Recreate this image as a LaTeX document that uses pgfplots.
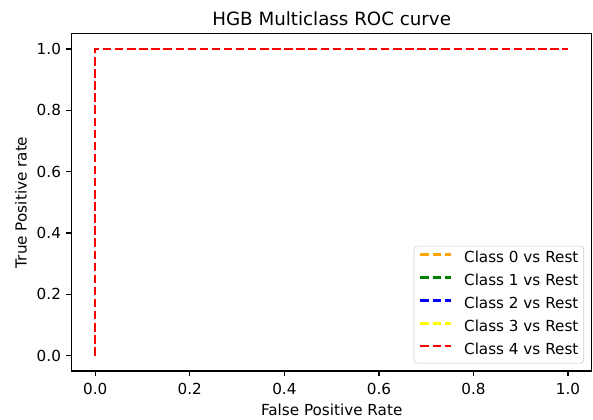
\documentclass[border=0pt]{standalone}
\usepackage{fontspec}
\setmainfont{DejaVu Sans}
\usepackage{pgfplots}
\usetikzlibrary{calc}
\pgfplotsset{compat=1.18}
\definecolor{mplorange}{HTML}{FFA500}
\definecolor{mplgreen}{HTML}{008000}
\definecolor{mplblue}{HTML}{0000FF}
\definecolor{mplyellow}{HTML}{FFFF00}
\definecolor{mplred}{HTML}{FF0000}
\tikzset{roc/.style={line width=1.5pt, dash pattern=on 5.55pt off 2.4pt}}
\begin{document}
\begin{tikzpicture}
\begin{axis}[
  scale only axis,
  width=342pt, height=221.8pt,
  xmin=-0.05, xmax=1.05, ymin=-0.05, ymax=1.05,
  xtick={0,0.2,0.4,0.6,0.8,1.0},
  ytick={0,0.2,0.4,0.6,0.8,1.0},
  /pgf/number format/assume math mode=true,
  /pgf/number format/.cd, fixed, fixed zerofill, precision=1, /pgfplots/.cd,
  tick align=outside, tick pos=left,
  major tick length=3.5pt,
  every tick/.style={black, line width=0.8pt},
  axis line style={line width=0.8pt},
  ticklabel style={font=\fontsize{10}{12}\selectfont},
  xticklabel style={yshift=-1pt},
  xlabel={False Positive Rate},
  ylabel={True Positive rate},
  label style={font=\fontsize{10}{12}\selectfont},
  xlabel style={at={(axis description cs:0.5,-0.1155)}, anchor=center},
  ylabel style={at={(axis description cs:-0.0974,0.5)}, anchor=center},
  every axis title shift=0pt,
  title={HGB Multiclass ROC curve},
  title style={at={(axis description cs:0.5,1.0257)}, anchor=base, font=\fontsize{12}{14}\selectfont},
  legend style={at={(axis description cs:0.9852,0.0228)}, anchor=south east,
    draw=black!20, rounded corners=2pt, fill=white, fill opacity=0.8, text opacity=1,
    font=\fontsize{10}{12}\selectfont, row sep=5.6pt, column sep=0pt,
    inner xsep=3.5pt, inner ysep=3.5pt,
    nodes={inner sep=0pt, text height=7.5pt, text depth=2pt}},
  legend cell align=left,
  legend image code/.code={\draw[#1] (0pt,2.75pt) -- (20pt,2.75pt); \path (28pt,2.75pt);},
]
\addplot[mplorange, roc] coordinates {(0,0) (0,1) (1,1)};
\addlegendentry{Class 0 vs Rest}
\addplot[mplgreen, roc] coordinates {(0,0) (0,1) (1,1)};
\addlegendentry{Class 1 vs Rest}
\addplot[mplblue, roc] coordinates {(0,0) (0,1) (1,1)};
\addlegendentry{Class 2 vs Rest}
\addplot[mplyellow, roc] coordinates {(0,0) (0,1) (1,1)};
\addlegendentry{Class 3 vs Rest}
\addplot[mplred, roc] coordinates {(0,0) (0,1) (1,1)};
\addlegendentry{Class 4 vs Rest}
\end{axis}
\pgfresetboundingbox
\useasboundingbox ($(current axis.south west)+(-47.1pt,-31.6pt)$) rectangle ($(current axis.north east)+(0.85pt,22.2pt)$);
\end{tikzpicture}
\end{document}
